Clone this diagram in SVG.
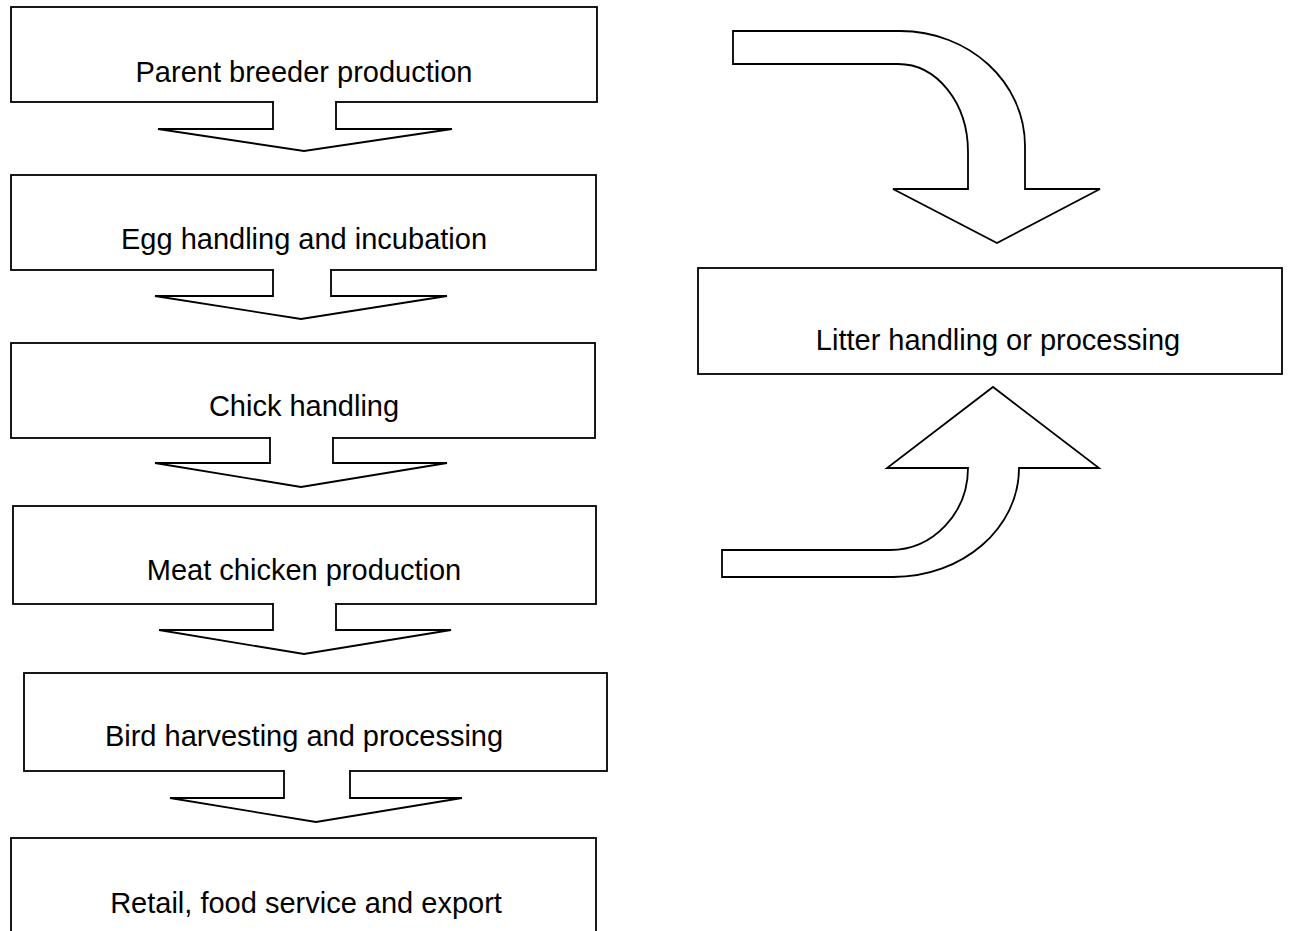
<svg xmlns="http://www.w3.org/2000/svg" width="1291" height="931" viewBox="0 0 1291 931">
<style>
.box{fill:#fff;stroke:#000;stroke-width:1.8}
.lbl{font-family:"Liberation Sans",Arial,sans-serif;font-size:29px;fill:#000;text-anchor:middle}
.arr{fill:#fff;stroke:#000;stroke-width:1.8;stroke-linejoin:miter}
</style>
<rect width="1291" height="931" fill="#fff"/>
<g id="node-parent"><rect class="box" x="11" y="7" width="586" height="95"/><text class="lbl" x="304" y="82">Parent breeder production</text></g>
<g id="node-egg"><rect class="box" x="11" y="175" width="585" height="95"/><text class="lbl" x="304" y="249">Egg handling and incubation</text></g>
<g id="node-chick"><rect class="box" x="11" y="343" width="584" height="95"/><text class="lbl" x="304" y="416">Chick handling</text></g>
<g id="node-meat"><rect class="box" x="13" y="506" width="583" height="98"/><text class="lbl" x="304" y="580">Meat chicken production</text></g>
<g id="node-bird"><rect class="box" x="24" y="673" width="583" height="98"/><text class="lbl" x="304" y="746">Bird harvesting and processing</text></g>
<g id="node-retail"><rect class="box" x="11" y="838" width="585" height="110"/><text class="lbl" x="306" y="913">Retail, food service and export</text></g>
<g id="node-litter"><rect class="box" x="698" y="268" width="584" height="106"/><text class="lbl" x="998" y="350">Litter handling or processing</text></g>
<g id="connectors">
<path class="arr" d="M273,101 L273,129 L158,129 L304,151 L452,129 L336,129 L336,101"/>
<path class="arr" d="M273,269 L273,296 L155,296 L301,319 L447,296 L331,296 L331,269"/>
<path class="arr" d="M270,437 L270,463 L155,463 L301,487 L447,463 L333,463 L333,437"/>
<path class="arr" d="M273,603 L273,630 L159,630 L304,654 L451,630 L336,630 L336,603"/>
<path class="arr" d="M284,770 L284,798 L170,798 L316,822 L462,798 L350,798 L350,770"/>
<path class="arr" d="M733,31 L900,31 C969,31 1025,82 1025,146 L1025,189 L1100,189 L997,243 L893,189 L968,189 L968,152 C968,103 937,64 898,64 L733,64 Z"/>
<path class="arr" d="M722,550 L890,550 C933,550 968,513 968,468 L887,468 L993,387 L1099,468 L1019,468 C1019,528 963,577 893,577 L722,577 Z"/>
</g>
</svg>
